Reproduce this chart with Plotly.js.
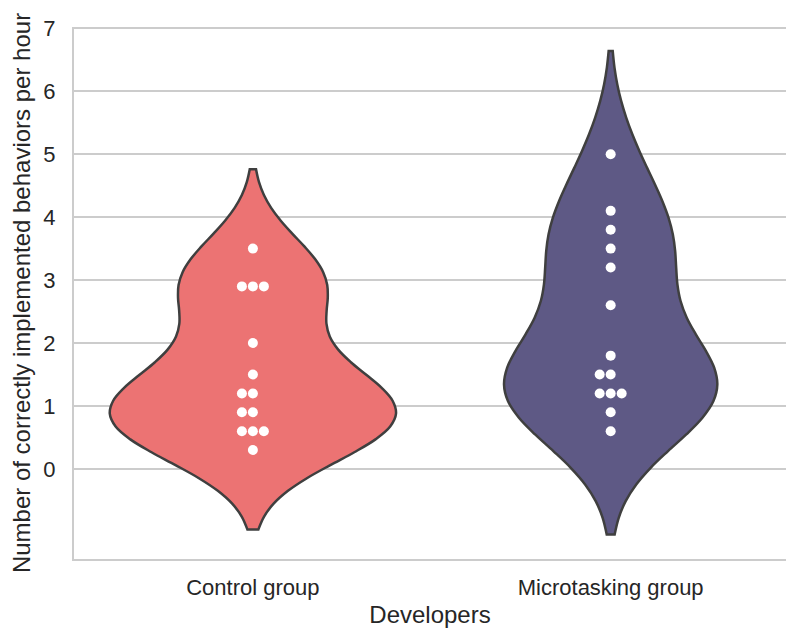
<!DOCTYPE html>
<html>
<head>
<meta charset="utf-8">
<script src="https://cdn.plot.ly/plotly-3.0.1.min.js"></script>
<style>
  html, body { margin: 0; padding: 0; background: #ffffff; }
  #chart { width: 786px; height: 628px; }
</style>
</head>
<body>
<div id="chart"></div>
<script>
// Groups shown along the x axis
const categories = ['Control group', 'Microtasking group'];

// Correctly implemented behaviors per hour, one value per developer
const controlValues = [3.5, 2.9, 2.9, 2.9, 2.0, 1.5, 1.2, 1.2, 0.9, 0.9, 0.6, 0.6, 0.6, 0.3];
const microValues = [5.0, 4.1, 3.8, 3.5, 3.2, 2.6, 1.8, 1.5, 1.5, 1.2, 1.2, 1.2, 0.9, 0.6];

const yTickValues = [0, 1, 2, 3, 4, 5, 6, 7];

const groupColors = ['#EC7373', '#5E5985'];
const outlineColor = '#3f3f3f';
const textColor = '#262626';
const gridColor = '#cccccc';

const margin = { l: 74, r: 0, t: 27, b: 69 };
const figW = 786, figH = 628;
const xRange = [-0.5, 1.49];
const yRange = [-1.43, 7.02];
const dotSize = 10;
const maxViolinWidth = 0.8;

// Scott's rule bandwidth (sample std * n^-1/5)
function scottBandwidth(vals) {
  const n = vals.length;
  const mean = vals.reduce((a, b) => a + b, 0) / n;
  const variance = vals.reduce((a, v) => a + (v - mean) * (v - mean), 0) / (n - 1);
  return Math.sqrt(variance) * Math.pow(n, -0.2);
}

// Highest point of the gaussian KDE over the soft span (min - 2bw .. max + 2bw)
function peakDensity(vals, bw) {
  const lo = Math.min(...vals) - 2 * bw, hi = Math.max(...vals) + 2 * bw;
  const steps = 400;
  let peak = 0;
  for (let s = 0; s <= steps; s++) {
    const t = lo + (hi - lo) * s / steps;
    let d = 0;
    vals.forEach(v => { const z = (t - v) / bw; d += Math.exp(-0.5 * z * z); });
    d /= vals.length * bw * Math.sqrt(2 * Math.PI);
    if (d > peak) peak = d;
  }
  return peak;
}

// Place tied values side by side: centre first, then left, then right
function swarmX(vals, center, dx) {
  const seen = {};
  return vals.map(v => {
    const key = v.toFixed(3);
    const idx = seen[key] = (seen[key] === undefined ? 0 : seen[key] + 1);
    const step = Math.ceil(idx / 2);
    const off = idx === 0 ? 0 : (idx % 2 === 1 ? -step : step);
    return center + off * dx;
  });
}

const pxPerUnitX = (figW - margin.l - margin.r) / (xRange[1] - xRange[0]);
const dotStep = (dotSize + 1) / pxPerUnitX;

const groups = [controlValues, microValues];
const bandwidths = groups.map(scottBandwidth);
const peaks = groups.map((vals, i) => peakDensity(vals, bandwidths[i]));
const topPeak = Math.max(...peaks);

const traces = [];

// Equal-area violins: width follows each group's density peak
groups.forEach((vals, i) => {
  traces.push({
    type: 'violin',
    x0: i,
    y: vals,
    name: categories[i],
    orientation: 'v',
    bandwidth: bandwidths[i],
    spanmode: 'soft',
    scalemode: 'width',
    width: maxViolinWidth * peaks[i] / topPeak,
    points: false,
    box: { visible: false },
    meanline: { visible: false },
    fillcolor: groupColors[i],
    opacity: 1,
    line: { color: outlineColor, width: 2.5 },
    hoverinfo: 'skip',
    showlegend: false
  });
});

groups.forEach((vals, i) => {
  traces.push({
    type: 'scatter',
    mode: 'markers',
    x: swarmX(vals, i, dotStep),
    y: vals,
    marker: { color: '#ffffff', size: dotSize, line: { width: 0 } },
    hoverinfo: 'y',
    showlegend: false,
    cliponaxis: false
  });
});

const layout = {
  width: figW,
  height: figH,
  margin: margin,
  paper_bgcolor: '#ffffff',
  plot_bgcolor: '#ffffff',
  font: { family: '"Liberation Sans", Arial, sans-serif', color: textColor, size: 22 },
  showlegend: false,
  violinmode: 'overlay',
  xaxis: {
    range: xRange,
    tickmode: 'array',
    tickvals: [0, 1],
    ticktext: categories,
    showgrid: false,
    zeroline: false,
    showline: true,
    linecolor: gridColor,
    linewidth: 2,
    ticks: '',
    ticklabelstandoff: 8,
    tickfont: { size: 22, color: textColor },
    title: { text: 'Developers', font: { size: 24, color: textColor }, standoff: 9 }
  },
  yaxis: {
    range: yRange,
    tickmode: 'array',
    tickvals: yTickValues,
    showgrid: true,
    gridcolor: gridColor,
    gridwidth: 2,
    zeroline: false,
    showline: true,
    linecolor: gridColor,
    linewidth: 2,
    ticks: '',
    ticklabelstandoff: 12,
    tickfont: { size: 22, color: textColor },
    title: { text: 'Number of correctly implemented behaviors per hour', font: { size: 24, color: textColor }, standoff: 6 }
  }
};

Plotly.newPlot('chart', traces, layout, { displayModeBar: false, staticPlot: true });
</script>
</body>
</html>
